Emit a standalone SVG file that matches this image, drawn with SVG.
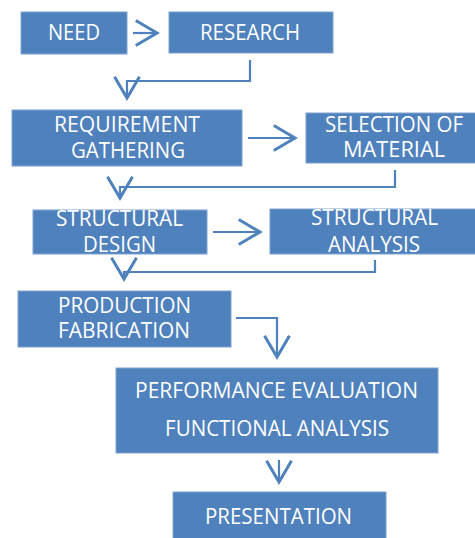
<svg xmlns="http://www.w3.org/2000/svg" width="475" height="538" viewBox="0 0 475 538">
<style>
.box{fill:#4F81BD;stroke:#7FA3D0;stroke-width:1}
.t{font-family:"Open Sans","Liberation Sans",sans-serif;font-size:21px;fill:#FFFFFF}
.c{fill:none;stroke:#4F81BD;stroke-width:2.2;marker-end:url(#ah)}
</style>
<defs>
<marker id="ah" markerUnits="userSpaceOnUse" markerWidth="30" markerHeight="30" refX="0" refY="0" viewBox="-20 -12 22 24" orient="auto" overflow="visible">
<path d="M-17,-10 L0,0 L-17,10" fill="none" stroke="#4F81BD" stroke-width="2.4"/>
</marker>
</defs>
<rect width="475" height="538" fill="#FFFFFF"/>
<g id="need"><rect class="box" x="21" y="12" width="106" height="42"/><text class="t" x="48" y="40" textLength="52" lengthAdjust="spacingAndGlyphs">NEED</text></g>
<g id="research"><rect class="box" x="169" y="12" width="164" height="41"/><text class="t" x="200" y="40" textLength="100" lengthAdjust="spacingAndGlyphs">RESEARCH</text></g>
<g id="requirement"><rect class="box" x="12" y="110" width="230" height="56"/><text class="t" x="54" y="132" textLength="146" lengthAdjust="spacingAndGlyphs">REQUIREMENT</text><text class="t" x="71" y="158" textLength="114" lengthAdjust="spacingAndGlyphs">GATHERING</text></g>
<g id="selection"><rect class="box" x="306" y="113" width="170" height="50"/><text class="t" x="325" y="132" textLength="138" lengthAdjust="spacingAndGlyphs">SELECTION OF</text><text class="t" x="343" y="157" textLength="102" lengthAdjust="spacingAndGlyphs">MATERIAL</text></g>
<g id="design"><rect class="box" x="33" y="210" width="174" height="44"/><text class="t" x="56" y="226" textLength="127" lengthAdjust="spacingAndGlyphs">STRUCTURAL</text><text class="t" x="83" y="252" textLength="73" lengthAdjust="spacingAndGlyphs">DESIGN</text></g>
<g id="analysis"><rect class="box" x="270" y="209" width="206" height="45"/><text class="t" x="311" y="225" textLength="127" lengthAdjust="spacingAndGlyphs">STRUCTURAL</text><text class="t" x="328" y="252" textLength="92" lengthAdjust="spacingAndGlyphs">ANALYSIS</text></g>
<g id="production"><rect class="box" x="18" y="291" width="213" height="56"/><text class="t" x="58" y="313" textLength="133" lengthAdjust="spacingAndGlyphs">PRODUCTION</text><text class="t" x="58" y="338" textLength="132" lengthAdjust="spacingAndGlyphs">FABRICATION</text></g>
<g id="performance"><rect class="box" x="116" y="368" width="322" height="85"/><text class="t" x="135" y="398" textLength="283" lengthAdjust="spacingAndGlyphs">PERFORMANCE EVALUATION</text><text class="t" x="165" y="436" textLength="224" lengthAdjust="spacingAndGlyphs">FUNCTIONAL ANALYSIS</text></g>
<g id="presentation"><rect class="box" x="173" y="492" width="213" height="50"/><text class="t" x="205" y="524" textLength="147" lengthAdjust="spacingAndGlyphs">PRESENTATION</text></g>
<g id="connectors">
<polyline class="c" points="133,33 157,33"/>
<polyline class="c" points="250,60 250,81 127,81 127,98"/>
<polyline class="c" points="248,138 295,138"/>
<polyline class="c" points="395,170 395,187 120,187 120,198"/>
<polyline class="c" points="213,232 260,232"/>
<polyline class="c" points="375,260 375,272 124,272 124,279"/>
<polyline class="c" points="236,318 277,318 277,357"/>
<polyline class="c" points="279,460 279,482"/>
</g>
</svg>
